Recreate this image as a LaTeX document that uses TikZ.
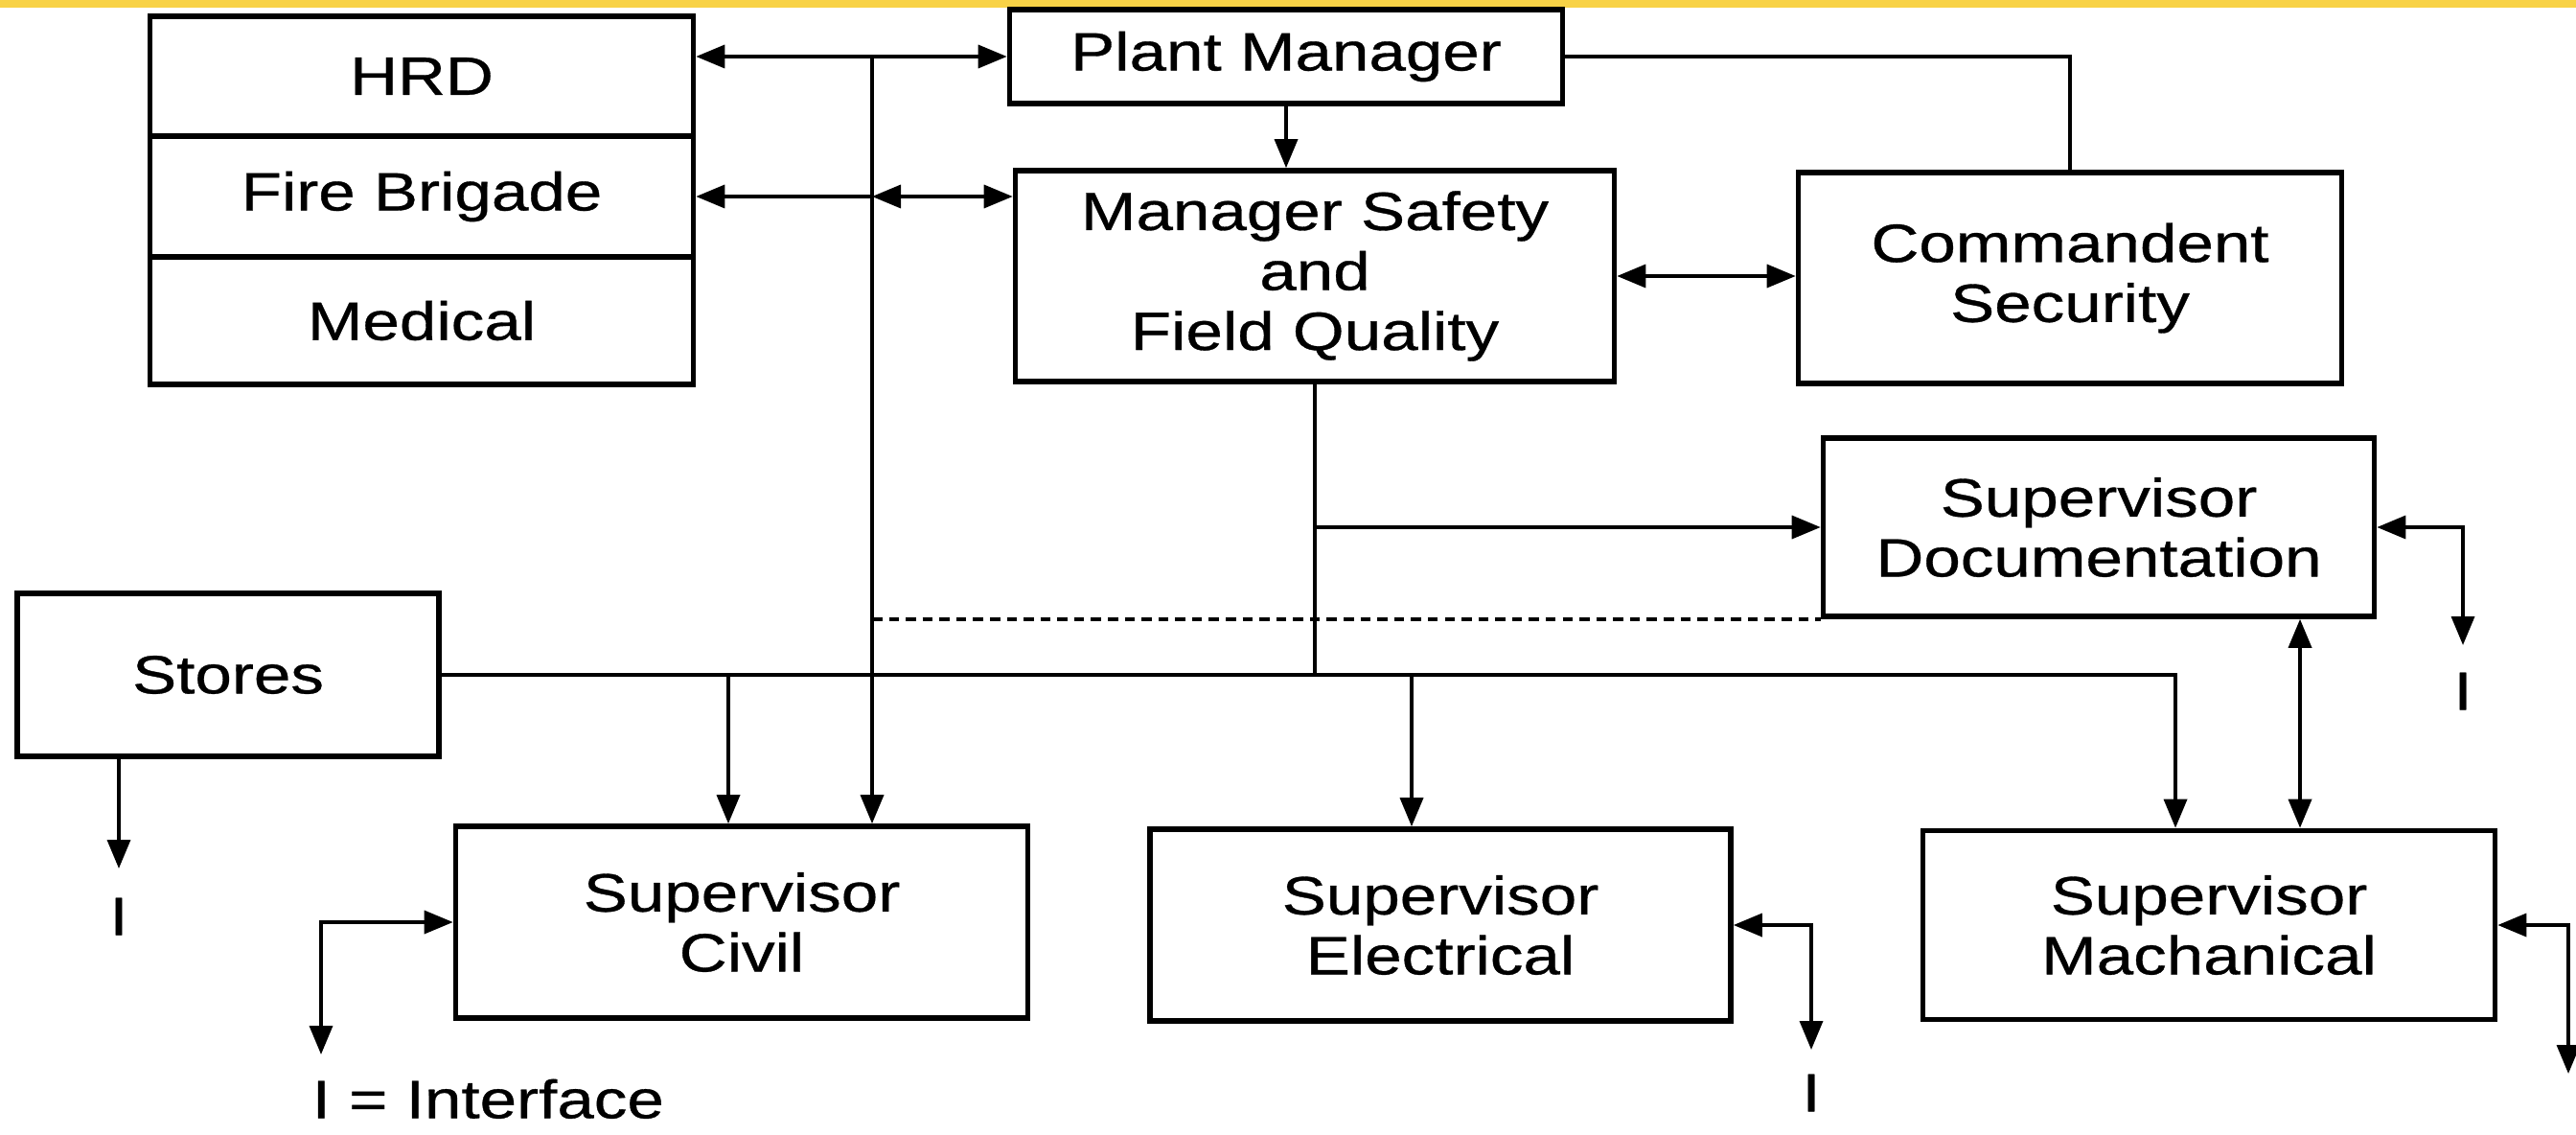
\documentclass[tikz,border=0pt]{standalone}
\usepackage{fontspec}
\setmainfont{Liberation Sans}[FakeStretch=1.23,FakeBold=0.6]
\usetikzlibrary{arrows.meta,positioning}
\definecolor{stripyellow}{HTML}{F8D246}
\begin{document}
\begin{tikzpicture}[font=\fontsize{16}{17.8}\selectfont,
  >={Triangle[length=3mm,width=2.4mm]},
  blk/.style={draw,line width=1.6pt,align=center,inner sep=0pt},
  conn/.style={line width=1pt},
  iface/.style={inner sep=0pt}]
\useasboundingbox (0,0) rectangle (26.88,-11.84);
\fill[stripyellow] (0,0) rectangle (26.88,-0.08);
\node[blk,minimum width=5.67cm,minimum height=1.25cm] (hrd) at (4.40,-0.795) {HRD};
\node[blk,minimum width=5.67cm,minimum height=1.26cm] (fire) at (4.40,-2.05) {Fire Brigade};
\node[blk,minimum width=5.67cm,minimum height=1.33cm] (med) at (4.40,-3.345) {Medical};
\node[blk,minimum width=5.77cm,minimum height=0.98cm] (pm) at (13.42,-0.59) {Plant Manager};
\node[blk,minimum width=6.25cm,minimum height=2.2cm] (ms) at (13.72,-2.88) {Manager Safety\\and\\Field Quality};
\node[blk,minimum width=5.67cm,minimum height=2.2cm] (comm) at (21.6,-2.9) {Commandent\\Security};
\node[blk,minimum width=5.75cm,minimum height=1.86cm] (doc) at (21.9,-5.5) {Supervisor\\Documentation};
\node[blk,minimum width=4.4cm,minimum height=1.7cm] (stores) at (2.38,-7.04) {Stores};
\node[blk,minimum width=5.97cm,minimum height=2cm] (civ) at (7.74,-9.62) {Supervisor\\Civil};
\node[blk,minimum width=6.06cm,minimum height=2cm] (elec) at (15.03,-9.65) {Supervisor\\Electrical};
\node[blk,minimum width=5.97cm,minimum height=1.97cm] (mach) at (23.05,-9.65) {Supervisor\\Machanical};
\coordinate (vtop) at (9.1,-0.59);
\coordinate (civin) at ([xshift=-1.4mm]civ.north);
\coordinate (elecin) at ([xshift=-3mm]elec.north);
\coordinate (machin) at ([xshift=-3.5mm]mach.north);
\coordinate (docout) at ([xshift=2.1cm]doc.south);
\coordinate (storesi) at (1.24,-9.06);
\coordinate (civi) at (3.35,-11.0);
\coordinate (eleci) at (18.9,-10.95);
\coordinate (doci) at (25.7,-6.73);
\coordinate (machi) at (26.8,-11.2);
\draw[conn,<->] (hrd.east |- pm.west) -- (pm.west);
\draw[conn,->] (vtop) -- (vtop |- civ.north);
\draw[conn,<-] (fire.east) -- (vtop |- fire.east);
\draw[conn,<->] (vtop |- fire.east) -- (fire.east -| ms.west);
\draw[conn,->] (pm.south) -- (pm.south |- ms.north);
\draw[conn] (pm.east) -| (comm.north);
\draw[conn,<->] (ms.east) -- (ms.east -| comm.west);
\draw[conn] (ms.south) -- (ms.south |- stores.east);
\draw[conn,->] (ms.south |- doc.west) -- (doc.west);
\draw[conn,densely dashed] (vtop |- doc.south) -- (doc.south west);
\draw[conn,->] (stores.east) -| (machin);
\draw[conn,->] (stores.east -| civin) -- (civin);
\draw[conn,->] (stores.east -| elecin) -- (elecin);
\draw[conn,<->] (docout) -- (docout |- mach.north);
\draw[conn,->] (stores.south -| storesi) -- (storesi);
\node[iface,below=3mm of storesi] (istores) {I};
\draw[conn,<->] (civ.west) -| (civi);
\node[iface,below right=2.5mm and -1mm of civi] (legend) {I = Interface};
\draw[conn,<->] (elec.east) -| (eleci);
\node[iface,below=2.5mm of eleci] (ielec) {I};
\draw[conn,<->] (doc.east) -| (doci);
\node[iface,below=2.8mm of doci] (idoc) {I};
\draw[conn,<->] (mach.east) -| (machi);
\end{tikzpicture}
\end{document}
